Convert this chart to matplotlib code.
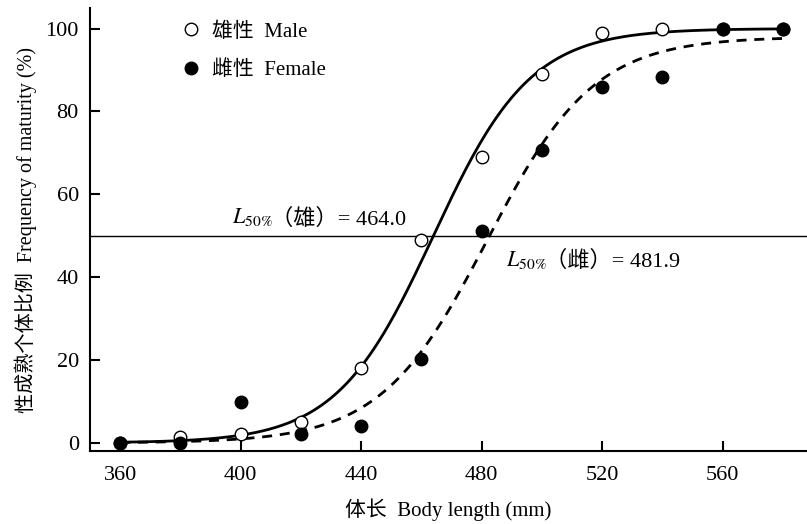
import matplotlib.pyplot as plt
import numpy as np

plt.rcParams['font.family'] = ['Liberation Serif', 'Noto Sans CJK SC']
plt.rcParams['mathtext.fontset'] = 'stix'

# observed data
length = [360, 380, 400, 420, 440, 460, 480, 500, 520, 540, 560, 580]
male = [0, 1.3, 2.1, 5.0, 18.0, 49.0, 69.0, 89.0, 99.0, 100.0, 100.0, 100.0]
female = [0, 0, 9.8, 2.2, 4.0, 20.2, 51.2, 70.6, 85.9, 88.2, 100.0, 100.0]

# logistic fit parameters (L50, slope, asymptote)
male_fit = (464.0, 0.062, 100.0)
female_fit = (481.9, 0.0564, 98.0)


def logistic(x, p):
    l50, r, a = p
    return a / (1 + np.exp(-r * (x - l50)))


def l50_label(x, y, sex, value):
    t = ax.text(x, y, r'$L_{50\%}$', fontsize=16, va='bottom')
    ax.annotate('（%s）= %.1f' % (sex, value), xy=(1, 0), xycoords=t,
                va='bottom', ha='left', fontsize=16,
                xytext=(-1, -1), textcoords='offset points')


fig = plt.figure(figsize=(8.07, 5.24), dpi=100)
ax = fig.add_axes([0.1115, 0.139, 0.8885, 0.846])

xs = np.linspace(360, 580, 300)
ax.axhline(50, color='black', lw=1.0, zorder=1)
ax.plot(xs, logistic(xs, male_fit), color='black', lw=2.0, zorder=2)
ax.plot(xs, logistic(xs, female_fit), color='black', lw=2.0,
        linestyle=(0, (3.6, 2.8)), zorder=2)

ax.plot(length, male, 'o', mfc='white', mec='black', mew=1.0, ms=9,
        label='雄性  Male', zorder=3)
ax.plot(length, female, 'o', mfc='black', mec='black', ms=9,
        label='雌性  Female', zorder=4)

l50_label(397, 51.8, '雄', 464.0)
l50_label(488, 41.5, '雌', 481.9)

ax.set_xlim(350, 588)
ax.set_ylim(-2, 105)
ax.set_xticks([360, 400, 440, 480, 520, 560])
ax.set_yticks([0, 20, 40, 60, 80, 100])
ax.spines['top'].set_visible(False)
ax.spines['right'].set_visible(False)
ax.spines['left'].set_linewidth(1.5)
ax.spines['bottom'].set_linewidth(1.5)
ax.tick_params(direction='in', length=7, width=1.5, labelsize=16)
ax.tick_params(axis='x', pad=11)
ax.tick_params(axis='y', pad=8)

ax.set_xlabel('体长  Body length (mm)', fontsize=15, labelpad=9)
ax.set_ylabel('性成熟个体比例  Frequency of maturity (%)', fontsize=14.5, labelpad=6)

ax.legend(loc='upper left', bbox_to_anchor=(0.1, 1.01), frameon=False,
          fontsize=15, handlelength=1.0, handletextpad=0.5, labelspacing=0.9)

fig.savefig('out.png', dpi=100)
